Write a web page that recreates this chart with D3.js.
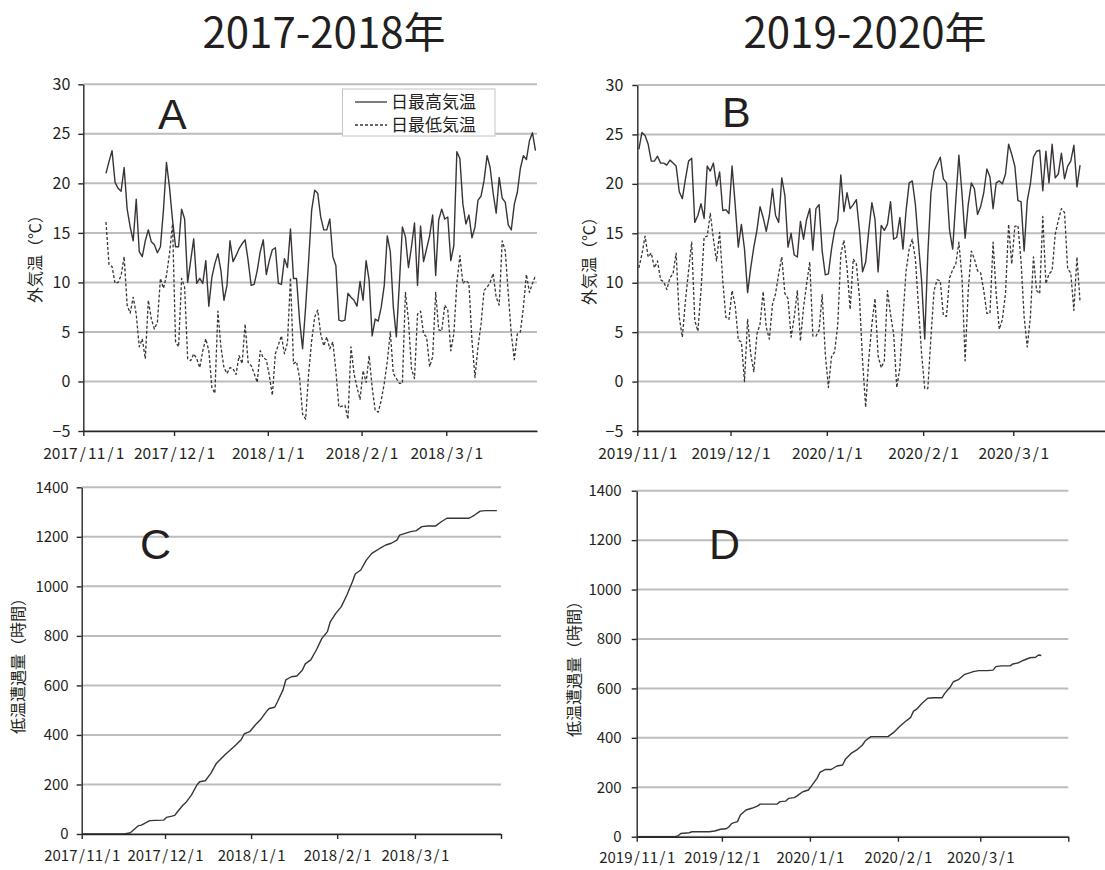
<!DOCTYPE html>
<html>
<head>
<meta charset="utf-8">
<script src="https://cdn.jsdelivr.net/npm/d3@7"></script>
<style>
  body { margin: 0; background: #fff; }
</style>
</head>
<body>
<script>
// --- data ---
const yearTitles = ["2017-2018年", "2019-2020年"]
const panelLetters = ["A", "B", "C", "D"]
const seriesNames = ["日最高気温", "日最低気温"]
const tempLabel = "外気温（℃）"
const hoursLabel = "低温遭遇量（時間）"
const tempTicks = [-5, 0, 5, 10, 15, 20, 25, 30]
const hourTicks = [0, 200, 400, 600, 800, 1000, 1200, 1400]
const monthTicksA = ["2017-11-01", "2017-12-01", "2018-01-01", "2018-02-01", "2018-03-01"]
const monthTicksB = ["2019-11-01", "2019-12-01", "2020-01-01", "2020-02-01", "2020-03-01"]

// daily max / min temperature, 2017-18, first value is 2017/11/8
const aStart = "2017-11-08"
const aMax = [21.0,22.2,23.3,20.1,19.5,19.2,21.6,17.4,15.6,14.2,
  18.4,13.1,12.6,14.2,15.3,14.1,13.8,13.0,13.6,17.3,
  22.1,19.6,16.3,13.6,13.6,17.4,16.4,10.0,12.2,14.4,
  9.9,10.4,9.9,12.2,7.6,10.5,11.9,12.9,11.2,8.2,
  9.7,14.2,12.1,12.7,13.4,13.9,14.3,12.2,9.7,9.8,
  11.2,13.1,14.3,10.8,12.2,13.3,13.5,9.9,9.8,12.4,
  11.5,15.4,10.4,10.4,6.2,3.3,7.5,12.2,17.3,19.3,
  19.0,16.6,15.3,15.3,16.4,12.6,11.7,6.2,6.1,6.2,
  8.9,8.5,8.2,7.6,10.1,8.2,12.2,10.2,4.6,6.3,
  6.1,7.5,9.7,14.7,13.1,7.5,4.5,9.9,15.6,14.6,
  11.5,13.6,16.0,9.7,15.7,12.1,13.4,14.7,16.8,10.7,
  16.3,17.4,16.4,16.6,12.2,13.7,23.2,22.5,17.9,15.9,
  16.8,14.5,15.6,18.3,18.7,20.3,22.8,21.6,19.0,17.0,
  20.6,18.5,18.1,15.8,15.3,17.9,19.1,21.5,22.8,22.4,
  24.3,25.1,23.3]
const aMin = [16.1,11.8,11.6,9.9,10.0,10.7,12.6,7.7,6.9,8.5,
  6.8,3.5,4.3,2.3,8.2,6.3,5.3,6.0,10.4,9.4,
  10.7,12.9,15.9,4.0,3.5,10.4,9.5,2.3,2.1,2.8,
  2.3,1.4,3.1,4.3,3.1,-0.6,-1.2,7.1,3.5,1.4,
  0.8,1.4,1.3,0.7,2.6,1.8,5.8,1.9,1.6,0.8,
  -0.1,3.1,2.4,2.2,0.6,-1.4,2.8,3.7,4.6,2.8,
  3.9,10.5,1.8,2.0,0.4,-3.3,-3.8,0.8,4.1,6.5,
  7.2,4.8,3.6,4.5,3.3,4.0,1.1,-2.6,-2.5,-2.4,
  -3.8,3.5,0.8,-0.6,-1.8,1.1,-0.1,2.6,-0.6,-2.9,
  -3.1,-1.9,-0.2,2.0,5.0,0.8,0.3,-0.2,-0.2,9.0,
  6.2,1.3,0.3,6.8,7.1,4.8,4.5,1.5,2.5,9.0,
  5.2,5.1,7.7,7.2,3.1,4.8,9.9,12.7,9.9,10.2,
  9.9,4.1,0.4,3.5,5.8,9.2,9.5,10.0,10.9,8.5,
  7.7,14.2,13.2,8.9,4.8,2.2,4.8,5.0,7.5,10.8,
  9.0,9.9,10.7]

// daily max / min temperature, 2019-20, first value is 2019/11/1
const bStart = "2019-11-01"
const bMax = [23.5,25.2,24.9,24.0,22.3,22.3,22.8,22.1,22.1,21.9,
  22.4,22.1,21.8,19.2,18.5,20.5,22.3,22.6,16.1,16.8,
  18.0,16.5,21.8,21.3,22.1,19.8,21.2,17.3,17.4,17.0,
  21.8,17.9,13.6,15.9,13.4,9.0,11.5,13.6,15.3,17.7,
  16.6,15.2,16.8,19.5,16.8,16.1,20.6,18.8,13.6,15.0,
  12.8,12.6,16.2,14.4,16.4,17.5,13.3,17.5,17.9,13.2,
  10.8,10.9,13.4,15.3,16.3,20.9,17.2,19.1,17.5,17.9,
  18.4,15.3,11.1,12.1,15.3,18.1,16.4,11.1,15.8,15.3,
  15.9,18.2,14.4,14.6,16.6,13.4,17.3,20.1,20.3,17.9,
  13.9,10.2,4.3,12.9,19.1,21.3,22.0,22.7,20.5,20.1,
  15.3,13.4,18.3,22.9,19.0,14.5,17.9,20.1,19.5,16.9,
  17.7,19.1,21.5,20.7,17.5,20.1,20.3,20.0,21.0,24.0,
  23.0,21.8,18.3,18.2,13.2,18.3,20.0,22.7,23.3,23.4,
  19.3,23.3,20.1,24.0,20.6,21.0,23.1,20.5,21.8,22.3,
  23.9,19.7,21.9]
const bMin = [11.5,12.9,14.7,12.6,13.0,11.5,12.2,10.3,10.1,9.3,
  10.5,10.9,13.0,6.5,4.5,8.2,11.2,14.1,6.2,5.1,
  9.2,14.6,14.7,17.0,14.4,12.2,15.1,10.2,6.5,6.3,
  9.2,7.7,4.2,4.0,0.0,6.3,2.8,1.0,4.8,5.8,
  9.1,5.5,4.3,7.8,8.9,10.9,12.6,8.9,8.4,4.5,
  6.5,9.2,4.1,7.5,9.9,12.1,4.6,4.6,5.2,8.8,
  2.8,-0.6,2.5,3.0,5.7,12.9,14.3,11.5,7.3,12.4,
  11.9,8.5,2.1,-2.6,2.3,5.8,8.4,2.6,1.4,2.1,
  9.2,6.8,4.8,-0.6,1.4,6.5,11.2,13.4,14.4,12.4,
  7.5,2.8,-0.7,-0.7,4.5,9.2,10.3,10.2,6.7,6.6,
  10.5,11.3,11.9,14.1,10.5,2.1,9.2,13.2,12.4,11.2,
  11.0,9.2,6.9,6.9,14.1,8.9,5.3,6.3,8.9,15.9,
  11.9,15.7,15.8,12.2,6.5,3.5,6.5,12.6,9.2,8.9,
  16.7,9.9,10.9,11.2,14.9,16.3,17.5,17.1,11.4,11.0,
  7.2,12.6,8.0]

// cumulative low-temperature hours, days counted from 11/1
const cDay = [0,15,17,20,21,24,26,29,30,32,33,34,36,37,39,41,42,44,46,48,
  51,53,55,57,58,60,62,64,66,67,69,70,72,73,75,77,79,80,82,84,
  86,88,89,91,93,95,97,98,100,102,104,105,107,109,111,113,114,116,118,120,
  122,124,127,129,131,139,141,143,145,149]
const cHours = [0,0,5,34,36,54,55,56,67,72,75,90,117,127,157,198,211,215,245,285,
  319,339,359,382,404,413,440,463,494,507,512,534,582,622,635,638,662,687,703,743,
  790,817,857,891,918,965,1019,1050,1066,1106,1133,1140,1154,1167,1174,1187,1207,1214,1221,1225,
  1241,1244,1244,1261,1275,1275,1288,1304,1306,1306]
const dDay = [0,13,14,15,18,19,25,27,29,31,32,33,35,36,38,40,42,43,49,50,
  52,53,55,56,58,60,61,63,64,66,68,70,72,73,75,77,79,80,82,88,
  90,92,94,96,97,98,100,102,104,107,108,110,111,113,115,117,118,120,123,125,
  126,128,131,132,134,136,138,140,141,142]
const dHours = [0,0,3,13,16,20,20,23,30,32,40,54,61,88,108,115,124,132,132,142,
  144,155,158,165,182,189,205,236,260,272,272,286,290,313,337,351,371,388,405,405,
  422,445,465,483,508,515,540,560,562,562,580,607,627,637,657,664,668,672,672,674,
  688,691,691,699,704,715,724,726,735,733]

// --- drawing ---
const W = 1105, H = 870
const jp = '"Noto Sans CJK JP", "Noto Sans", sans-serif'
const ink = "#231f20"
const lineCol = "#3a3435"
const parse = d3.timeParse("%Y-%m-%d")
const fmt = d3.timeFormat("%Y/%-m/%-d")
const noon = d => d3.timeHour.offset(d, 12)

const svg = d3.select("body").append("svg")
    .attr("width", W)
    .attr("height", H)
    .style("font-family", jp)

function panel(o) {
  let x = d3.scaleTime().domain(o.xDomain.map(parse)).range([o.left, o.right])
  let y = d3.scaleLinear().domain(o.yDomain).range([o.bottom, o.top])
  let g = svg.append("g")

  // grid lines
  g.append("g").selectAll("line")
    .data(o.yTicks)
    .join("line")
      .attr("x1", o.left).attr("x2", Math.min(o.right, W))
      .attr("y1", d => y(d)).attr("y2", d => y(d))
      .attr("stroke", "#bdbdbd")
      .attr("stroke-width", 2)

  // data lines
  let line = d3.line().x(d => x(d.date)).y(d => y(d.v))
  o.series.forEach(s => {
    g.append("path")
      .datum(s.points)
      .attr("fill", "none")
      .attr("stroke", lineCol)
      .attr("stroke-width", s.dash ? 1.3 : 1.4)
      .attr("stroke-dasharray", s.dash || null)
      .attr("stroke-linejoin", "round")
      .attr("d", line)
  })

  // y axis
  let yAxis = d3.axisLeft(y).tickValues(o.yTicks).tickSize(5).tickSizeOuter(0).tickPadding(o.yPad)
  let gy = g.append("g").attr("transform", "translate(" + o.left + ",0)").call(yAxis)
  gy.attr("font-family", jp).attr("font-size", o.yFont)
  gy.selectAll("text").attr("fill", ink).text(d => d < 0 ? "−" + Math.abs(d) : d)

  // x axis, month starts
  let end = parse(o.xDomain[1])
  let tv = o.xTicks.map(parse)
  if (o.endTick) tv.push(end)
  let xAxis = d3.axisBottom(x).tickValues(tv).tickSize(5).tickSizeOuter(0)
    .tickFormat(d => +d === +end ? "" : fmt(d))
  let gx = g.append("g").attr("transform", "translate(0," + o.bottom + ")").call(xAxis)
  gx.attr("font-family", jp).attr("font-size", o.xFont)
  gx.selectAll("text").each(function(d) {
    let label = +d === +end ? "" : fmt(d)
    let t = d3.select(this).text("").attr("y", o.xBase).attr("dy", 0).attr("fill", ink)
    label.split("/").forEach((p, i) => {
      if (i > 0) t.append("tspan").attr("dx", o.slashGap).text("/")
      if (p) t.append("tspan").attr("dx", i > 0 ? o.slashGap : 0).text(p)
    })
  })
  g.selectAll(".domain, .tick line").attr("stroke", "#2b2526").attr("stroke-width", 1.4)

  // y title
  g.append("text")
    .attr("transform", "translate(" + o.yTitle[0] + "," + o.yTitle[1] + ") rotate(-90)")
    .attr("text-anchor", "middle")
    .attr("dy", "0.35em")
    .attr("font-size", 16)
    .attr("fill", ink)
    .text(o.yLabel)

  // panel letter
  g.append("text")
    .attr("x", o.letter[0]).attr("y", o.letter[1])
    .attr("font-family", '"Liberation Sans", Arial, sans-serif')
    .attr("font-size", 43)
    .attr("fill", ink)
    .text(o.letterText)

  return {x, y, g}
}

function daily(start, vals) {
  let s = parse(start)
  return vals.map((v, i) => ({date: noon(d3.timeDay.offset(s, i)), v: v}))
}
function byDay(start, days, vals) {
  let s = parse(start)
  return days.map((dd, i) => ({date: noon(d3.timeDay.offset(s, dd)), v: vals[i]}))
}

let pA = panel({
  left: 83.3, right: 537, top: 84.3, bottom: 431,
  xDomain: ["2017-11-01", "2018-03-31"], yDomain: [-5, 30],
  xTicks: monthTicksA, yTicks: tempTicks, endTick: false,
  yPad: 8, yFont: 16, xFont: 15.5, xBase: 28, slashGap: 2.2,
  yTitle: [35, 255], yLabel: tempLabel,
  letter: [158, 129], letterText: panelLetters[0],
  series: [
    {points: daily(aStart, aMax)},
    {points: daily(aStart, aMin), dash: "3,2"}
  ]
})

panel({
  left: 637.3, right: 1109.6, top: 85, bottom: 431,
  xDomain: ["2019-11-01", "2020-04-01"], yDomain: [-5, 30],
  xTicks: monthTicksB, yTicks: tempTicks, endTick: false,
  yPad: 9, yFont: 16, xFont: 15.5, xBase: 28, slashGap: 1.7,
  yTitle: [589, 257], yLabel: tempLabel,
  letter: [722, 127], letterText: panelLetters[1],
  series: [
    {points: daily(bStart, bMax)},
    {points: daily(bStart, bMin), dash: "3,2"}
  ]
})

panel({
  left: 81.7, right: 501, top: 487.3, bottom: 834,
  xDomain: ["2017-11-01", "2018-04-01"], yDomain: [0, 1400],
  xTicks: monthTicksA, yTicks: hourTicks, endTick: true,
  yPad: 8, yFont: 15, xFont: 15, xBase: 27, slashGap: 1.5,
  yTitle: [18, 662], yLabel: hoursLabel,
  letter: [140, 559], letterText: panelLetters[2],
  series: [{points: byDay("2017-11-01", cDay, cHours)}]
})

panel({
  left: 636.7, right: 1068.3, top: 490.7, bottom: 836.7,
  xDomain: ["2019-11-01", "2020-04-01"], yDomain: [0, 1400],
  xTicks: monthTicksB, yTicks: hourTicks, endTick: true,
  yPad: 10, yFont: 15, xFont: 15, xBase: 26, slashGap: 1.5,
  yTitle: [574, 665], yLabel: hoursLabel,
  letter: [709, 559], letterText: panelLetters[3],
  series: [{points: byDay("2019-11-01", dDay, dHours)}]
})

// legend inside panel A
let leg = pA.g.append("g")
leg.append("rect")
  .attr("x", 342.5).attr("y", 89).attr("width", 152.5).attr("height", 47)
  .attr("fill", "#fff").attr("stroke", "#c4c4c4").attr("stroke-width", 1)
seriesNames.forEach((name, i) => {
  let yy = 102 + i * 23
  leg.append("line")
    .attr("x1", 355).attr("x2", 387).attr("y1", yy).attr("y2", yy)
    .attr("stroke", lineCol).attr("stroke-width", 1.3)
    .attr("stroke-dasharray", i ? "3,2" : null)
  leg.append("text")
    .attr("x", 391).attr("y", yy + 6)
    .attr("font-size", 17).attr("fill", ink)
    .text(name)
})

// titles
svg.selectAll(".title")
  .data(yearTitles)
  .join("text")
    .attr("class", "title")
    .attr("x", (d, i) => i ? 865 : 324)
    .attr("y", 48)
    .attr("text-anchor", "middle")
    .attr("font-size", 42)
    .attr("fill", ink)
    .text(d => d)
</script>
</body>
</html>
